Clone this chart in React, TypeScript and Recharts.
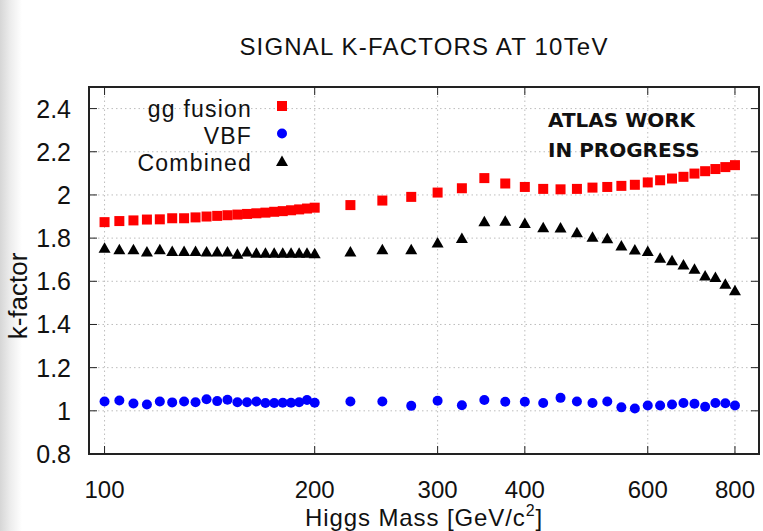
import React from "react";
import {
  ScatterChart,
  Scatter,
  XAxis,
  YAxis,
  CartesianGrid,
  ReferenceArea,
  Label,
} from "recharts";

// ---------------------- DATA ----------------------
// Higgs mass points [GeV/c^2]
const MASSES = [
  100, 105, 110, 115, 120, 125, 130, 135, 140, 145, 150, 155, 160, 165, 170,
  175, 180, 185, 190, 195, 200, 225, 250, 275, 300, 325, 350, 375, 400, 425,
  450, 475, 500, 525, 550, 575, 600, 625, 650, 675, 700, 725, 750, 775, 800,
];

const GG_FUSION = [
  1.874, 1.879, 1.882, 1.886, 1.887, 1.892, 1.892, 1.896, 1.9, 1.903, 1.906,
  1.909, 1.912, 1.915, 1.918, 1.922, 1.925, 1.929, 1.933, 1.937, 1.941, 1.953,
  1.974, 1.991, 2.011, 2.031, 2.078, 2.053, 2.037, 2.028, 2.026, 2.028, 2.034,
  2.037, 2.042, 2.047, 2.058, 2.068, 2.076, 2.084, 2.099, 2.11, 2.12, 2.129,
  2.138,
];

const VBF = [
  1.043, 1.048, 1.034, 1.029, 1.043, 1.039, 1.043, 1.04, 1.054, 1.045, 1.051,
  1.04, 1.04, 1.043, 1.036, 1.036, 1.037, 1.037, 1.04, 1.05, 1.037, 1.043,
  1.043, 1.023, 1.047, 1.026, 1.05, 1.042, 1.042, 1.036, 1.06, 1.043, 1.036,
  1.043, 1.016, 1.011, 1.025, 1.025, 1.029, 1.036, 1.033, 1.019, 1.036, 1.035,
  1.025,
];

const COMBINED = [
  1.755, 1.748, 1.748, 1.738, 1.748, 1.74, 1.74, 1.74, 1.738, 1.738, 1.738,
  1.728, 1.738, 1.732, 1.732, 1.732, 1.732, 1.732, 1.732, 1.732, 1.73, 1.738,
  1.749, 1.749, 1.78, 1.8, 1.878, 1.881, 1.87, 1.85, 1.849, 1.827, 1.806,
  1.799, 1.766, 1.747, 1.74, 1.709, 1.698, 1.678, 1.658, 1.627, 1.62, 1.589,
  1.558,
];

const SERIES_NAMES = ["gg fusion", "VBF", "Combined"];
const X_TICKS = [100, 200, 300, 400, 600, 800];
const Y_TICKS = [0.8, 1, 1.2, 1.4, 1.6, 1.8, 2, 2.2, 2.4];
const X_DOMAIN = [95, 866];
const Y_DOMAIN = [0.8, 2.5];

// ---------------------- LAYOUT ----------------------
const W = 763;
const H = 531;
const PLOT_T = 87;
const PLOT_B = 454;
const PLOT_L = 89;
const PLOT_R = 759;
const FONT = '"Liberation Sans", Arial, Helvetica, sans-serif';
const TICK_LEN = 8;

const toPoints = (vals: number[]) => MASSES.map((m, i) => ({ mass: m, k: vals[i] }));

const Square = (p: any) => (
  <rect x={p.cx - 5} y={p.cy - 5} width={10} height={10} fill="#ff0000" />
);
const Dot = (p: any) => <circle cx={p.cx} cy={p.cy} r={5} fill="#0000ff" />;
const Tri = (p: any) => (
  <path
    d={`M${p.cx},${p.cy - 5.5} L${p.cx + 6},${p.cy + 5} L${p.cx - 6},${p.cy + 5} Z`}
    fill="#000"
  />
);
const MARKERS = [Square, Dot, Tri];

const XTick = ({ x, payload }: any) => (
  <g>
    <line x1={x} x2={x} y1={PLOT_B} y2={PLOT_B - TICK_LEN} stroke="#222" />
    <line x1={x} x2={x} y1={PLOT_T} y2={PLOT_T + TICK_LEN} stroke="#222" />
    <text x={x} y={498} textAnchor="middle" fontSize={24} fontFamily={FONT} fill="#111">
      {payload.value}
    </text>
  </g>
);

const YTick = ({ y, payload }: any) => (
  <g>
    <line x1={PLOT_L} x2={PLOT_L + TICK_LEN} y1={y} y2={y} stroke="#222" />
    <line x1={PLOT_R} x2={PLOT_R - TICK_LEN} y1={y} y2={y} stroke="#222" />
    <text x={71} y={y} dy="0.36em" textAnchor="end" fontSize={25} fontFamily={FONT} fill="#111">
      {payload.value}
    </text>
  </g>
);

const XLabel = ({ viewBox }: any) => (
  <text
    x={viewBox.x + viewBox.width / 2}
    y={526}
    textAnchor="middle"
    fontSize={24}
    letterSpacing={0.9}
    fontFamily={FONT}
    fill="#111"
  >
    Higgs Mass [GeV/c
    <tspan dy={-10} fontSize={16}>2</tspan>
    <tspan dy={10}>]</tspan>
  </text>
);

const YLabel = () => (
  <text
    x={27}
    y={296}
    transform="rotate(-90 27 296)"
    textAnchor="middle"
    fontSize={26}
    fontFamily={FONT}
    fill="#111"
  >
    k-factor
  </text>
);

export default function App() {
  return (
    <div
      style={{
        position: "absolute",
        left: 0,
        top: 0,
        width: W,
        height: H,
        background: "linear-gradient(to right, #d6d6d6 0px, #ececec 10px, #ffffff 22px)",
      }}
    >
      <ScatterChart
        width={W}
        height={H}
        margin={{ top: PLOT_T, right: W - PLOT_R, bottom: 0, left: 0 }}
      >
        <CartesianGrid stroke="#bdbdbd" strokeDasharray="1.5 3" />
        <XAxis
          dataKey="mass"
          type="number"
          scale="log"
          domain={X_DOMAIN}
          ticks={X_TICKS}
          interval={0}
          allowDataOverflow
          height={H - PLOT_B}
          axisLine={false}
          tickLine={false}
          tick={<XTick />}
        >
          <Label content={<XLabel />} />
        </XAxis>
        <YAxis
          dataKey="k"
          type="number"
          domain={Y_DOMAIN}
          ticks={Y_TICKS}
          interval={0}
          allowDataOverflow
          width={PLOT_L}
          axisLine={false}
          tickLine={false}
          tick={<YTick />}
        >
          <Label content={<YLabel />} />
        </YAxis>
        <ReferenceArea
          x1={X_DOMAIN[0]}
          x2={X_DOMAIN[1]}
          y1={Y_DOMAIN[0]}
          y2={Y_DOMAIN[1]}
          fill="none"
          stroke="#222"
          strokeWidth={2}
          ifOverflow="visible"
        />
        <Scatter name={SERIES_NAMES[0]} data={toPoints(GG_FUSION)} fill="#ff0000" shape={Square} isAnimationActive={false} />
        <Scatter name={SERIES_NAMES[1]} data={toPoints(VBF)} fill="#0000ff" shape={Dot} isAnimationActive={false} />
        <Scatter name={SERIES_NAMES[2]} data={toPoints(COMBINED)} fill="#000000" shape={Tri} isAnimationActive={false} />
      </ScatterChart>
      <svg
        width={W}
        height={H}
        style={{ position: "absolute", left: 0, top: 0, pointerEvents: "none" }}
      >
        {/* key */}
        {SERIES_NAMES.map((name, i) => {
          const Marker = MARKERS[i];
          return (
            <g key={name}>
              <text
                x={252}
                y={117 + i * 27}
                textAnchor="end"
                fontSize={23}
                letterSpacing={1.2}
                fontFamily={FONT}
                fill="#111"
              >
                {name}
              </text>
              <Marker cx={282} cy={106 + i * 27.5} />
            </g>
          );
        })}
        <text x={424} y={55} textAnchor="middle" fontSize={24} letterSpacing={1.2} fontFamily={FONT} fill="#111">
          SIGNAL K-FACTORS AT 10TeV
        </text>
        <text x={548} y={127} fontSize={20} fontWeight="bold" fontFamily='"DejaVu Sans", sans-serif' fill="#111">
          ATLAS WORK
        </text>
        <text x={548} y={157} fontSize={20} fontWeight="bold" fontFamily='"DejaVu Sans", sans-serif' fill="#111">
          IN PROGRESS
        </text>
      </svg>
    </div>
  );
}
